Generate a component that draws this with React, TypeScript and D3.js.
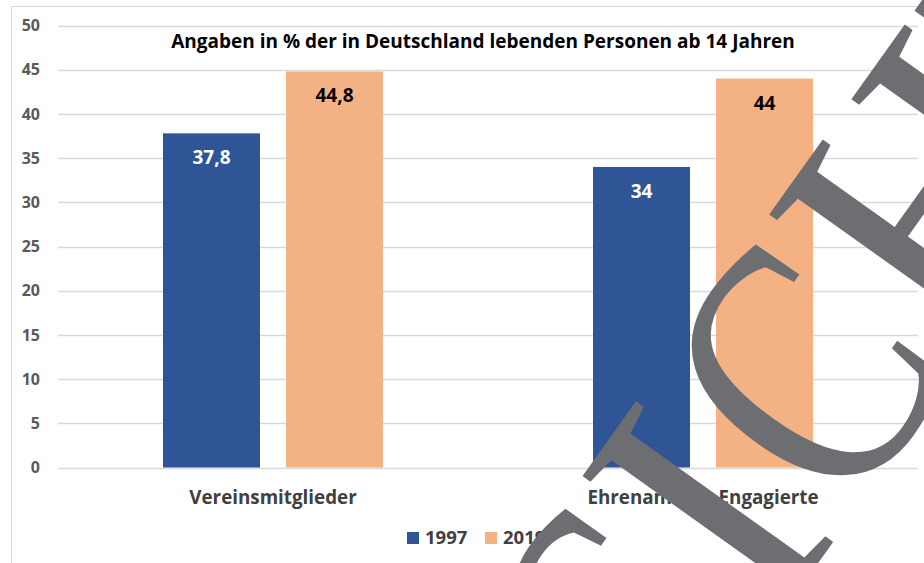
import React from "react";
import * as d3 from "d3";

const categories = ["Vereinsmitglieder", "Ehrenamtlich Engagierte"];
const seriesNames = ["1997", "2019"];
const values1997 = [37.8, 34];
const values2019 = [44.8, 44];
const yTicks = [0, 5, 10, 15, 20, 25, 30, 35, 40, 45, 50];
const valueLabels1997 = ["37,8", "34"];
const valueLabels2019 = ["44,8", "44"];
const title = "Angaben in % der in Deutschland lebenden Personen ab 14 Jahren";
const watermarkLetters = ["S", "I", "C", "H", "T"];

const W = 924;
const H = 563;
const FONT = "'Open Sans', 'Noto Sans', sans-serif";
const COLORS = ["#2F5597", "#F4B183"];

// watermark letter placement along the rotated baseline (b) and horizontal squeeze
const wmOffsets = [-222, -62, 67, 262, 516];
const wmSqueeze = [0.8, 0.95, 0.78, 0.95, 0.95];

export default function App() {
  const x0 = d3.scaleBand<string>().domain(categories).range([58, 918]);
  const x1 = d3
    .scaleBand<string>()
    .domain(seriesNames)
    .range([105, 325])
    .paddingInner(0.2114)
    .paddingOuter(0);
  const y = d3.scaleLinear().domain([0, 50]).range([467.5, 25.5]);
  const series = [
    { name: seriesNames[0], values: values1997, labels: valueLabels1997, color: COLORS[0], textColor: "#ffffff" },
    { name: seriesNames[1], values: values2019, labels: valueLabels2019, color: COLORS[1], textColor: "#000000" },
  ];

  return (
    <div style={{ position: "fixed", left: 0, top: 0, width: W, height: H, background: "#fff" }}>
      <svg width={W} height={H} style={{ display: "block" }}>
        <rect x={11.5} y={6.5} width={W + 10} height={H + 10} fill="#fff" stroke="#d9d9d9" strokeWidth={1} />
        {yTicks.map((t) => (
          <g key={t}>
            <line x1={58} x2={918} y1={Math.round(y(t)) + 0.5} y2={Math.round(y(t)) + 0.5} stroke="#d9d9d9" strokeWidth={1.3} />
            <text x={40} y={y(t)} dy="0.36em" textAnchor="end" fontFamily={FONT} fontWeight={700} fontSize={16} fill="#595959">
              {t}
            </text>
          </g>
        ))}
        <text x={483} y={48} textAnchor="middle" fontFamily={FONT} fontWeight={700} fontSize={19} fill="#000">
          {title}
        </text>
        {categories.map((c, i) => (
          <g key={c} transform={`translate(${x0(c)},0)`}>
            {series.map((s) => (
              <g key={s.name}>
                <rect x={x1(s.name)} y={y(s.values[i])} width={x1.bandwidth()} height={y(0) - y(s.values[i])} fill={s.color} />
                <text
                  x={(x1(s.name) as number) + x1.bandwidth() / 2}
                  y={y(s.values[i]) + 31}
                  textAnchor="middle"
                  fontFamily={FONT}
                  fontWeight={700}
                  fontSize={19}
                  fill={s.textColor}
                >
                  {s.labels[i]}
                </text>
              </g>
            ))}
            <text x={x0.bandwidth() / 2} y={504} textAnchor="middle" fontFamily={FONT} fontWeight={700} fontSize={18.8} fill="#404040">
              {c}
            </text>
          </g>
        ))}
        <g transform="translate(407,532)">
          {series.map((s, i) => (
            <g key={s.name} transform={`translate(${i * 78},0)`}>
              <rect x={0} y={0} width={12} height={12} fill={s.color} />
              <text x={18} y={11.5} fontFamily={FONT} fontWeight={700} fontSize={18.5} fill="#404040">
                {s.name}
              </text>
            </g>
          ))}
        </g>
        <g transform="rotate(-54.5)">
          {watermarkLetters.map((l, i) => (
            <text
              key={i}
              transform={`translate(${wmOffsets[i]},993) scale(${wmSqueeze[i]},1)`}
              fontFamily="'Liberation Serif', 'DejaVu Serif', serif"
              fontSize={370}
              fill="#6d6e71"
            >
              {l}
            </text>
          ))}
        </g>
      </svg>
    </div>
  );
}
